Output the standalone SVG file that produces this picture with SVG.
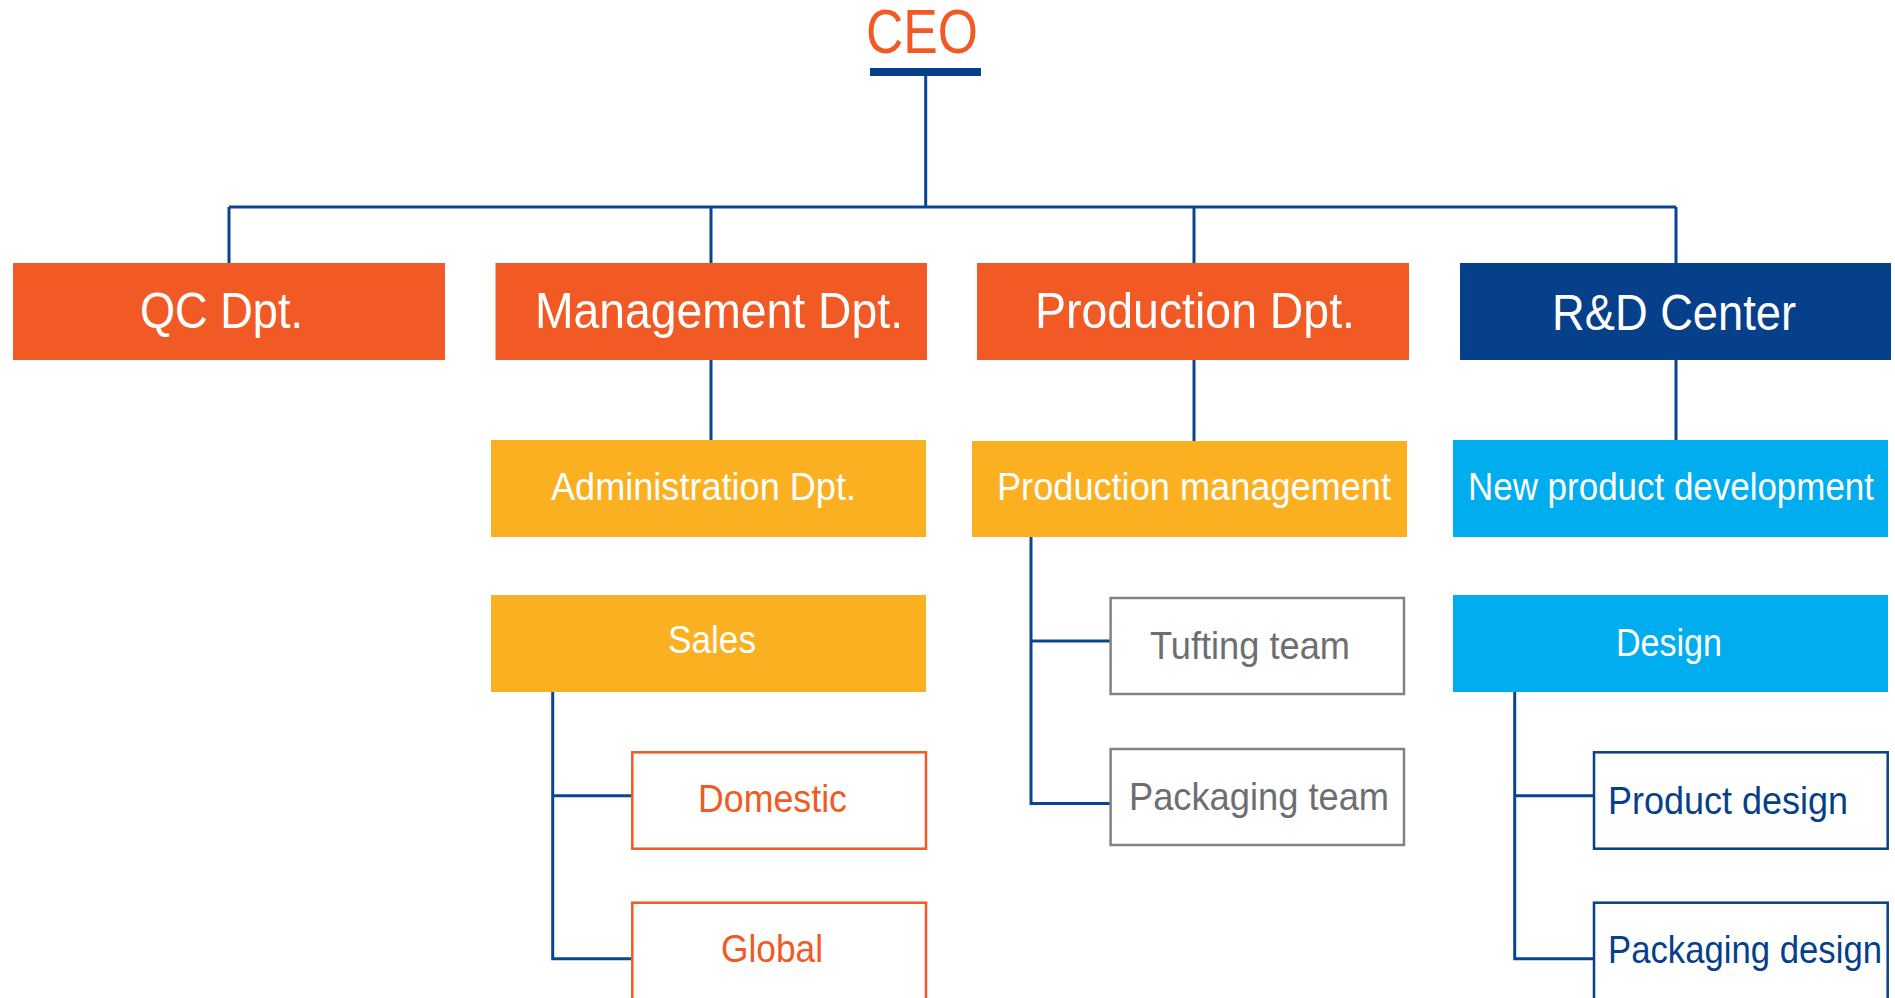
<svg xmlns="http://www.w3.org/2000/svg" width="1895" height="998" viewBox="0 0 1895 998">
<style>
text{font-family:"Liberation Sans",Arial,sans-serif;lengthAdjust:spacingAndGlyphs}
.t1{font-size:50px;fill:#fff}
.t2{font-size:38px;fill:#fff}
.t3{font-size:39px}
.or{fill:#f15a24}
.ye{fill:#fbb021}
.lb{fill:#00aeef}
.db{fill:#063f8a}
.ob{fill:#fff;stroke:#f15a24;stroke-width:2.5}
.gb{fill:#fff;stroke:#808285;stroke-width:2.5}
.bb{fill:#fff;stroke:#063f8a;stroke-width:2.5}
.conn{fill:none;stroke:#0b4592;stroke-width:3}
</style>
<rect width="1895" height="998" fill="#fff"/>
<g id="connectors" class="conn">
<path d="M925.7 76V207M229 207H1676M229 207V263M711 207V263M1194 207V263M1676 207V263"/>
<path d="M711 360V440M1194 360V441M1676 360V440"/>
<path d="M552.7 692V958.7H632M552.7 795.7H632"/>
<path d="M1031 537V803.6H1110.6M1031 641H1110.6"/>
<path d="M1514.7 692V958.7H1594M1514.7 795.7H1594"/>
</g>
<g id="ceo">
<text x="866" y="53" font-size="63" fill="#f15a24" textLength="112" lengthAdjust="spacingAndGlyphs">CEO</text>
<rect x="870" y="68" width="111" height="8" fill="#063f8a"/>
</g>
<g id="qc"><rect class="or" x="13" y="263" width="432" height="97"/><text class="t1" x="140" y="328" textLength="163" lengthAdjust="spacingAndGlyphs">QC Dpt.</text></g>
<g id="management"><rect class="or" x="495.5" y="263" width="431.5" height="97"/><text class="t1" x="535" y="328" textLength="368" lengthAdjust="spacingAndGlyphs">Management Dpt.</text></g>
<g id="production"><rect class="or" x="977" y="263" width="432" height="97"/><text class="t1" x="1035" y="328" textLength="320" lengthAdjust="spacingAndGlyphs">Production Dpt.</text></g>
<g id="rnd"><rect class="db" x="1460" y="263" width="431" height="97"/><text class="t1" x="1552" y="330" textLength="244" lengthAdjust="spacingAndGlyphs">R&amp;D Center</text></g>
<g id="admin"><rect class="ye" x="491" y="440" width="435" height="97"/><text class="t2" x="551" y="500" textLength="305" lengthAdjust="spacingAndGlyphs">Administration Dpt.</text></g>
<g id="sales"><rect class="ye" x="491" y="595" width="435" height="97"/><text class="t2" x="668" y="653" textLength="88" lengthAdjust="spacingAndGlyphs">Sales</text></g>
<g id="prodmgmt"><rect class="ye" x="972" y="441" width="435" height="96"/><text class="t2" x="997" y="500" textLength="394" lengthAdjust="spacingAndGlyphs">Production management</text></g>
<g id="newprod"><rect class="lb" x="1453" y="440" width="435" height="97"/><text class="t2" x="1468" y="500" textLength="406" lengthAdjust="spacingAndGlyphs">New product development</text></g>
<g id="design"><rect class="lb" x="1453" y="595" width="435" height="97"/><text class="t2" x="1616" y="656" textLength="106" lengthAdjust="spacingAndGlyphs">Design</text></g>
<g id="tufting"><rect class="gb" x="1110.6" y="598" width="293.4" height="96"/><text class="t3" x="1150" y="659" fill="#6d6e71" textLength="200" lengthAdjust="spacingAndGlyphs">Tufting team</text></g>
<g id="packteam"><rect class="gb" x="1110.6" y="749" width="293.4" height="96"/><text class="t3" x="1129" y="810" fill="#6d6e71" textLength="260" lengthAdjust="spacingAndGlyphs">Packaging team</text></g>
<g id="domestic"><rect class="ob" x="632.3" y="752.3" width="293.7" height="96.4"/><text class="t3" x="698" y="812" fill="#f15a24" textLength="149" lengthAdjust="spacingAndGlyphs">Domestic</text></g>
<g id="global"><rect class="ob" x="632.3" y="902.7" width="293.7" height="110"/><text class="t3" x="721" y="962" fill="#f15a24" textLength="102" lengthAdjust="spacingAndGlyphs">Global</text></g>
<g id="productdesign"><rect class="bb" x="1594" y="752.3" width="293.7" height="96.4"/><text class="t3" x="1608" y="814" fill="#063f8a" textLength="240" lengthAdjust="spacingAndGlyphs">Product design</text></g>
<g id="packdesign"><rect class="bb" x="1594" y="902.7" width="293.7" height="110"/><text class="t3" x="1608" y="963" fill="#063f8a" textLength="274" lengthAdjust="spacingAndGlyphs">Packaging design</text></g>
</svg>
